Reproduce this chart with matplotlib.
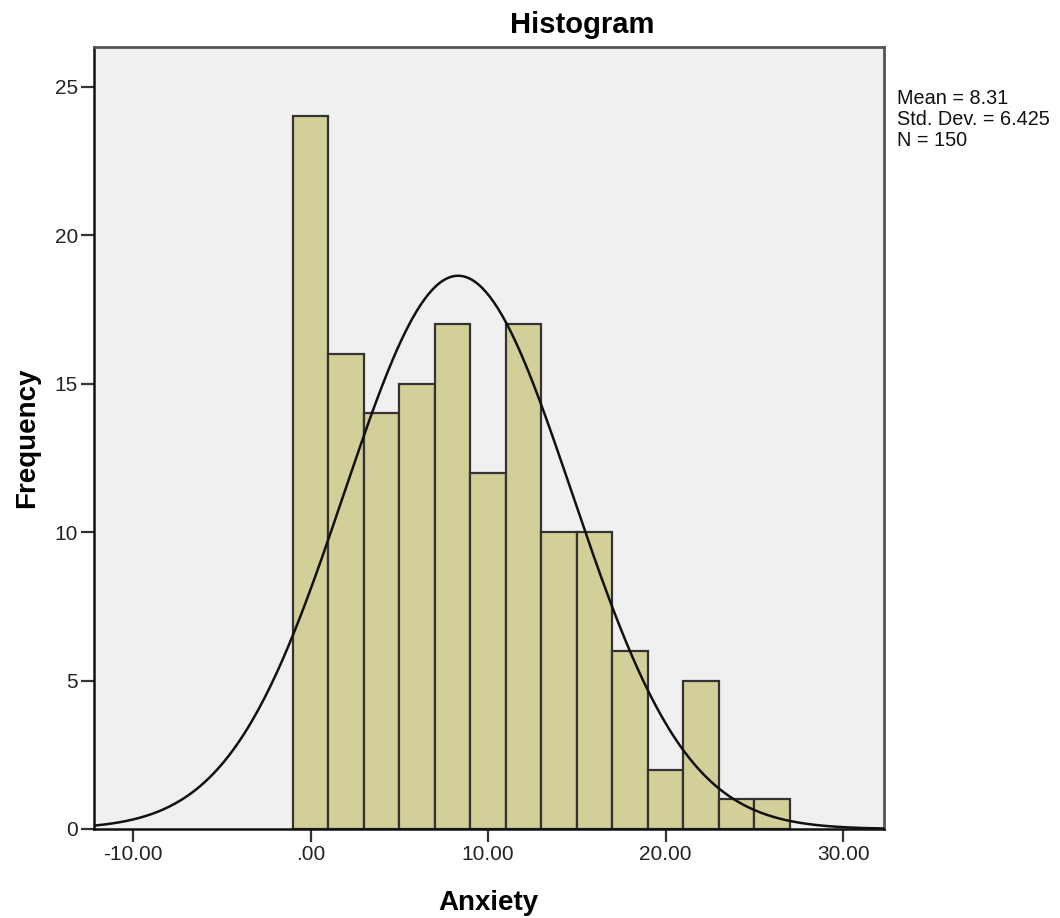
import matplotlib
matplotlib.use("Agg")
import matplotlib.pyplot as plt
import numpy as np

plt.rcParams["font.family"] = ["Liberation Sans", "DejaVu Sans"]

# histogram data (read from the SPSS output)
bin_edges = [-1, 1, 3, 5, 7, 9, 11, 13, 15, 17, 19, 21, 23, 25, 27]
counts = [24, 16, 14, 15, 17, 12, 17, 10, 10, 6, 2, 5, 1, 1]
mean = 8.31
std_dev = 6.425
n_total = 150

x_ticks = [-10, 0, 10, 20, 30]
x_tick_labels = ["-10.00", ".00", "10.00", "20.00", "30.00"]
y_ticks = [0, 5, 10, 15, 20, 25]

W, H = 1060, 918
fig = plt.figure(figsize=(W / 100, H / 100), dpi=100)
ax = fig.add_axes([94 / W, 1 - 829 / H, 790 / W, 782 / H])
ax.set_facecolor("#F0F0F0")

widths = np.diff(bin_edges)
ax.bar(bin_edges[:-1], counts, width=widths, align="edge",
       color="#D3CF98", edgecolor="#333333", linewidth=1.6, zorder=2)

# normal curve scaled to counts
bw = widths[0]
xs = np.linspace(-12.2, 32.3, 400)
ys = n_total * bw / (std_dev * np.sqrt(2 * np.pi)) * np.exp(-0.5 * ((xs - mean) / std_dev) ** 2)
ax.plot(xs, ys, color="#111111", linewidth=1.8, zorder=3)

ax.set_xlim(-12.2, 32.3)
ax.set_ylim(0, 26.33)
ax.set_xticks(x_ticks)
ax.set_xticklabels(x_tick_labels, fontsize=15)
ax.set_yticks(y_ticks)
ax.set_yticklabels([str(v) for v in y_ticks], fontsize=15)
ax.tick_params(axis="both", direction="out", length=9.5, width=1.6,
               color="#333333", labelcolor="#222222", pad=2)

for side in ["left", "bottom"]:
    ax.spines[side].set_color("#111111")
    ax.spines[side].set_linewidth(1.8)
for side in ["top", "right"]:
    ax.spines[side].set_color("#555555")
    ax.spines[side].set_linewidth(2)

fig.text(488 / W, 1 - 910 / H, "Anxiety", fontsize=20, fontweight="bold",
         ha="center", va="baseline")
fig.text(27 / W, 1 - 438 / H, "Frequency", fontsize=20, fontweight="bold",
         ha="center", va="center", rotation=90)
fig.text(582 / W, 1 - 33 / H, "Histogram", fontsize=21, fontweight="bold",
         ha="center", va="baseline")
fig.text(897 / W, 1 - 89 / H,
         "Mean = %.2f\nStd. Dev. = %.3f\nN = %d" % (mean, std_dev, n_total),
         fontsize=14.3, ha="left", va="top", linespacing=1.12, color="#111111")

fig.savefig("out.png", dpi=100)
